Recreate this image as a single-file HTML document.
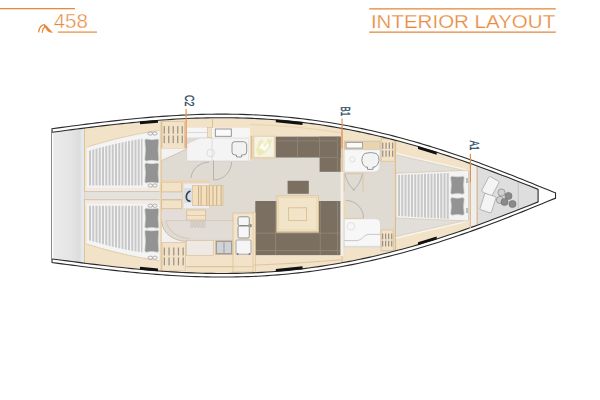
<!DOCTYPE html>
<html><head><meta charset="utf-8"><style>html,body{margin:0;padding:0;background:#fff;width:600px;height:400px;overflow:hidden}svg{display:block}</style></head>
<body>
<svg width="600" height="400" viewBox="0 0 600 400">
<defs>
<linearGradient id="gT" x1="0" x2="1" y1="0" y2="0"><stop offset="0" stop-color="#ebebeb"/><stop offset="0.55" stop-color="#e5e5e5"/><stop offset="0.86" stop-color="#dcdcdc"/><stop offset="0.89" stop-color="#e3e7e9"/><stop offset="1" stop-color="#e6eaec"/></linearGradient>
<clipPath id="cin"><path d="M52.0,132.25 C53.67,132.03 58.67,131.38 62.00,130.95 C65.33,130.52 68.67,130.08 72.00,129.65 C75.33,129.22 78.67,128.79 82.00,128.37 C85.33,127.95 88.67,127.53 92.00,127.12 C95.33,126.71 98.67,126.30 102.00,125.90 C105.33,125.50 108.67,125.12 112.00,124.74 C115.33,124.36 118.67,124.00 122.00,123.64 C125.33,123.28 128.67,122.93 132.00,122.60 C135.33,122.27 138.67,121.95 142.00,121.65 C145.33,121.35 148.67,121.06 152.00,120.78 C155.33,120.50 158.67,120.24 162.00,120.00 C165.33,119.76 168.67,119.54 172.00,119.33 C175.33,119.12 178.67,118.93 182.00,118.76 C185.33,118.59 188.67,118.44 192.00,118.31 C195.33,118.18 198.67,118.07 202.00,117.98 C205.33,117.89 208.67,117.83 212.00,117.78 C215.33,117.73 218.67,117.71 222.00,117.71 C225.33,117.71 228.67,117.73 232.00,117.78 C235.33,117.83 238.67,117.90 242.00,117.99 C245.33,118.08 248.67,118.20 252.00,118.34 C255.33,118.48 258.67,118.65 262.00,118.84 C265.33,119.03 268.67,119.25 272.00,119.49 C275.33,119.73 278.67,120.00 282.00,120.29 C285.33,120.58 288.67,120.91 292.00,121.25 C295.33,121.59 298.67,121.96 302.00,122.36 C305.33,122.76 308.67,123.18 312.00,123.63 C315.33,124.08 318.67,124.56 322.00,125.06 C325.33,125.56 328.67,126.09 332.00,126.64 C335.33,127.19 338.67,127.77 342.00,128.38 C345.33,128.99 348.67,129.62 352.00,130.28 C355.33,130.94 358.67,131.62 362.00,132.33 C365.33,133.04 368.67,133.77 372.00,134.53 C375.33,135.29 378.67,136.07 382.00,136.88 C385.33,137.69 388.67,138.52 392.00,139.37 C395.33,140.22 398.67,141.11 402.00,142.01 C405.33,142.91 408.67,143.84 412.00,144.79 C415.33,145.74 418.67,146.71 422.00,147.70 C425.33,148.69 428.67,149.71 432.00,150.74 C435.33,151.78 438.67,152.84 442.00,153.91 C445.33,154.98 448.67,156.08 452.00,157.19 C455.33,158.30 458.67,159.44 462.00,160.59 C465.33,161.74 468.67,162.91 472.00,164.09 C475.33,165.27 478.67,166.47 482.00,167.69 C485.33,168.91 488.67,170.14 492.00,171.38 C495.33,172.62 498.67,173.88 502.00,175.15 C505.33,176.42 508.67,177.71 512.00,179.00 C515.33,180.29 517.65,181.19 522.00,182.91 C526.35,184.63 535.42,188.25 538.10,189.32 L538.1,189.00 L538.1,202.20 L538.1,201.88 C535.42,202.95 526.35,206.57 522.00,208.29 C517.65,210.01 515.33,210.91 512.00,212.20 C508.67,213.49 505.33,214.78 502.00,216.05 C498.67,217.32 495.33,218.58 492.00,219.82 C488.67,221.06 485.33,222.29 482.00,223.51 C478.67,224.72 475.33,225.93 472.00,227.11 C468.67,228.29 465.33,229.46 462.00,230.61 C458.67,231.76 455.33,232.90 452.00,234.01 C448.67,235.12 445.33,236.22 442.00,237.29 C438.67,238.36 435.33,239.42 432.00,240.46 C428.67,241.49 425.33,242.51 422.00,243.50 C418.67,244.49 415.33,245.46 412.00,246.41 C408.67,247.36 405.33,248.29 402.00,249.19 C398.67,250.09 395.33,250.97 392.00,251.83 C388.67,252.68 385.33,253.51 382.00,254.32 C378.67,255.13 375.33,255.91 372.00,256.67 C368.67,257.43 365.33,258.16 362.00,258.87 C358.67,259.58 355.33,260.26 352.00,260.92 C348.67,261.58 345.33,262.21 342.00,262.82 C338.67,263.43 335.33,264.01 332.00,264.56 C328.67,265.11 325.33,265.64 322.00,266.14 C318.67,266.64 315.33,267.12 312.00,267.57 C308.67,268.02 305.33,268.44 302.00,268.84 C298.67,269.24 295.33,269.61 292.00,269.95 C288.67,270.29 285.33,270.62 282.00,270.91 C278.67,271.20 275.33,271.47 272.00,271.71 C268.67,271.95 265.33,272.17 262.00,272.36 C258.67,272.55 255.33,272.72 252.00,272.86 C248.67,273.00 245.33,273.12 242.00,273.21 C238.67,273.30 235.33,273.37 232.00,273.42 C228.67,273.47 225.33,273.49 222.00,273.49 C218.67,273.49 215.33,273.46 212.00,273.42 C208.67,273.37 205.33,273.31 202.00,273.22 C198.67,273.13 195.33,273.02 192.00,272.89 C188.67,272.76 185.33,272.61 182.00,272.44 C178.67,272.27 175.33,272.08 172.00,271.87 C168.67,271.66 165.33,271.44 162.00,271.20 C158.67,270.96 155.33,270.69 152.00,270.42 C148.67,270.14 145.33,269.85 142.00,269.55 C138.67,269.25 135.33,268.93 132.00,268.60 C128.67,268.27 125.33,267.92 122.00,267.56 C118.67,267.20 115.33,266.84 112.00,266.46 C108.67,266.08 105.33,265.70 102.00,265.30 C98.67,264.90 95.33,264.49 92.00,264.08 C88.67,263.67 85.33,263.25 82.00,262.83 C78.67,262.41 75.33,261.98 72.00,261.55 C68.67,261.12 65.33,260.68 62.00,260.25 C58.67,259.82 53.67,259.17 52.00,258.95 Z"/></clipPath>
</defs>
<rect width="600" height="400" fill="#ffffff"/>
<!-- header -->
<rect x="0" y="8" width="75" height="1.3" fill="#e8893b"/>
<rect x="57.8" y="31.5" width="39.2" height="1.2" fill="#e8893b"/>
<text x="53.7" y="27.7" font-family="Liberation Sans, sans-serif" font-size="19.8" fill="#e8893b" textLength="34.2" lengthAdjust="spacingAndGlyphs" stroke="#fff" stroke-width="0.4">458</text>
<path d="M38.6,31.9 C39.1,28.6 41.2,25 44.4,24.6" fill="none" stroke="#e8893b" stroke-width="1.3" stroke-linecap="round"/><path d="M43.6,24.5 C46.6,24.1 48.6,28.6 53,32.7 C50,32.9 47.6,31.8 46.6,30 C45.8,28.6 45.2,27.4 44.2,27.3 Z" fill="#e8893b"/><path d="M42.3,32.3 C42.5,29.9 43.3,27.9 44.9,27.4" fill="none" stroke="#e8893b" stroke-width="1.2" stroke-linecap="round"/>
<rect x="369.2" y="8.2" width="186.6" height="1.3" fill="#e8893b"/>
<rect x="369.2" y="31.5" width="186.6" height="1.3" fill="#e8893b"/>
<text x="370.9" y="27.6" font-family="Liberation Sans, sans-serif" font-size="18.6" fill="#e8893b" textLength="184.3" lengthAdjust="spacingAndGlyphs" stroke="#fff" stroke-width="0.25">INTERIOR LAYOUT</text>
<!-- hull -->
<path d="M52.0,128.69 C53.67,128.47 58.67,127.80 62.00,127.36 C65.33,126.92 68.67,126.48 72.00,126.04 C75.33,125.61 78.67,125.17 82.00,124.75 C85.33,124.33 88.67,123.90 92.00,123.49 C95.33,123.08 98.67,122.67 102.00,122.27 C105.33,121.87 108.67,121.48 112.00,121.10 C115.33,120.72 118.67,120.36 122.00,120.00 C125.33,119.64 128.67,119.30 132.00,118.97 C135.33,118.64 138.67,118.32 142.00,118.02 C145.33,117.72 148.67,117.42 152.00,117.15 C155.33,116.88 158.67,116.62 162.00,116.38 C165.33,116.14 168.67,115.92 172.00,115.72 C175.33,115.52 178.67,115.33 182.00,115.16 C185.33,114.99 188.67,114.84 192.00,114.71 C195.33,114.58 198.67,114.47 202.00,114.39 C205.33,114.31 208.67,114.24 212.00,114.20 C215.33,114.16 218.67,114.13 222.00,114.13 C225.33,114.13 228.67,114.15 232.00,114.20 C235.33,114.25 238.67,114.32 242.00,114.41 C245.33,114.50 248.67,114.62 252.00,114.76 C255.33,114.90 258.67,115.07 262.00,115.26 C265.33,115.45 268.67,115.66 272.00,115.90 C275.33,116.14 278.67,116.41 282.00,116.70 C285.33,116.99 288.67,117.31 292.00,117.65 C295.33,117.99 298.67,118.36 302.00,118.75 C305.33,119.14 308.67,119.56 312.00,120.01 C315.33,120.46 318.67,120.93 322.00,121.43 C325.33,121.93 328.67,122.45 332.00,123.00 C335.33,123.55 338.67,124.12 342.00,124.72 C345.33,125.32 348.67,125.95 352.00,126.60 C355.33,127.25 358.67,127.94 362.00,128.64 C365.33,129.34 368.67,130.07 372.00,130.82 C375.33,131.57 378.67,132.36 382.00,133.16 C385.33,133.96 388.67,134.79 392.00,135.64 C395.33,136.49 398.67,137.37 402.00,138.27 C405.33,139.17 408.67,140.09 412.00,141.03 C415.33,141.97 418.67,142.94 422.00,143.93 C425.33,144.92 428.67,145.94 432.00,146.97 C435.33,148.00 438.67,149.06 442.00,150.13 C445.33,151.20 448.67,152.30 452.00,153.42 C455.33,154.53 458.67,155.67 462.00,156.82 C465.33,157.97 468.67,159.15 472.00,160.34 C475.33,161.53 478.67,162.73 482.00,163.95 C485.33,165.17 488.67,166.41 492.00,167.67 C495.33,168.92 498.67,170.20 502.00,171.48 C505.33,172.76 508.67,174.05 512.00,175.36 C515.33,176.67 518.67,178.00 522.00,179.33 C525.33,180.66 528.67,182.01 532.00,183.36 C535.33,184.71 538.27,185.91 542.00,187.44 C545.73,188.97 552.33,191.72 554.40,192.57 L555.5,192.80 L555.5,198.40 L554.4,198.63 C552.33,199.48 545.73,202.22 542.00,203.76 C538.27,205.29 535.33,206.49 532.00,207.84 C528.67,209.19 525.33,210.54 522.00,211.87 C518.67,213.20 515.33,214.53 512.00,215.84 C508.67,217.15 505.33,218.44 502.00,219.72 C498.67,221.00 495.33,222.28 492.00,223.53 C488.67,224.78 485.33,226.03 482.00,227.25 C478.67,228.47 475.33,229.67 472.00,230.86 C468.67,232.05 465.33,233.23 462.00,234.38 C458.67,235.53 455.33,236.66 452.00,237.78 C448.67,238.90 445.33,240.00 442.00,241.07 C438.67,242.14 435.33,243.20 432.00,244.23 C428.67,245.26 425.33,246.28 422.00,247.27 C418.67,248.26 415.33,249.23 412.00,250.17 C408.67,251.11 405.33,252.03 402.00,252.93 C398.67,253.83 395.33,254.71 392.00,255.56 C388.67,256.41 385.33,257.24 382.00,258.04 C378.67,258.84 375.33,259.63 372.00,260.38 C368.67,261.13 365.33,261.86 362.00,262.56 C358.67,263.26 355.33,263.95 352.00,264.60 C348.67,265.25 345.33,265.88 342.00,266.48 C338.67,267.08 335.33,267.65 332.00,268.20 C328.67,268.75 325.33,269.27 322.00,269.77 C318.67,270.27 315.33,270.74 312.00,271.19 C308.67,271.64 305.33,272.06 302.00,272.45 C298.67,272.84 295.33,273.21 292.00,273.55 C288.67,273.89 285.33,274.21 282.00,274.50 C278.67,274.79 275.33,275.06 272.00,275.30 C268.67,275.54 265.33,275.75 262.00,275.94 C258.67,276.13 255.33,276.30 252.00,276.44 C248.67,276.58 245.33,276.70 242.00,276.79 C238.67,276.88 235.33,276.95 232.00,277.00 C228.67,277.05 225.33,277.07 222.00,277.07 C218.67,277.07 215.33,277.04 212.00,277.00 C208.67,276.96 205.33,276.89 202.00,276.81 C198.67,276.73 195.33,276.62 192.00,276.49 C188.67,276.36 185.33,276.21 182.00,276.04 C178.67,275.87 175.33,275.68 172.00,275.48 C168.67,275.28 165.33,275.06 162.00,274.82 C158.67,274.58 155.33,274.32 152.00,274.05 C148.67,273.78 145.33,273.48 142.00,273.18 C138.67,272.88 135.33,272.56 132.00,272.23 C128.67,271.90 125.33,271.56 122.00,271.20 C118.67,270.84 115.33,270.48 112.00,270.10 C108.67,269.72 105.33,269.33 102.00,268.93 C98.67,268.53 95.33,268.12 92.00,267.71 C88.67,267.30 85.33,266.88 82.00,266.45 C78.67,266.02 75.33,265.59 72.00,265.16 C68.67,264.72 65.33,264.28 62.00,263.84 C58.67,263.40 53.67,262.73 52.00,262.51 Z" fill="#ffffff" stroke="#2a2a2a" stroke-width="1.1"/>
<g clip-path="url(#cin)">
<path d="M52.0,132.25 C53.67,132.03 58.67,131.38 62.00,130.95 C65.33,130.52 68.67,130.08 72.00,129.65 C75.33,129.22 78.67,128.79 82.00,128.37 C85.33,127.95 88.67,127.53 92.00,127.12 C95.33,126.71 98.67,126.30 102.00,125.90 C105.33,125.50 108.67,125.12 112.00,124.74 C115.33,124.36 118.67,124.00 122.00,123.64 C125.33,123.28 128.67,122.93 132.00,122.60 C135.33,122.27 138.67,121.95 142.00,121.65 C145.33,121.35 148.67,121.06 152.00,120.78 C155.33,120.50 158.67,120.24 162.00,120.00 C165.33,119.76 168.67,119.54 172.00,119.33 C175.33,119.12 178.67,118.93 182.00,118.76 C185.33,118.59 188.67,118.44 192.00,118.31 C195.33,118.18 198.67,118.07 202.00,117.98 C205.33,117.89 208.67,117.83 212.00,117.78 C215.33,117.73 218.67,117.71 222.00,117.71 C225.33,117.71 228.67,117.73 232.00,117.78 C235.33,117.83 238.67,117.90 242.00,117.99 C245.33,118.08 248.67,118.20 252.00,118.34 C255.33,118.48 258.67,118.65 262.00,118.84 C265.33,119.03 268.67,119.25 272.00,119.49 C275.33,119.73 278.67,120.00 282.00,120.29 C285.33,120.58 288.67,120.91 292.00,121.25 C295.33,121.59 298.67,121.96 302.00,122.36 C305.33,122.76 308.67,123.18 312.00,123.63 C315.33,124.08 318.67,124.56 322.00,125.06 C325.33,125.56 328.67,126.09 332.00,126.64 C335.33,127.19 338.67,127.77 342.00,128.38 C345.33,128.99 348.67,129.62 352.00,130.28 C355.33,130.94 358.67,131.62 362.00,132.33 C365.33,133.04 368.67,133.77 372.00,134.53 C375.33,135.29 378.67,136.07 382.00,136.88 C385.33,137.69 388.67,138.52 392.00,139.37 C395.33,140.22 398.67,141.11 402.00,142.01 C405.33,142.91 408.67,143.84 412.00,144.79 C415.33,145.74 418.67,146.71 422.00,147.70 C425.33,148.69 428.67,149.71 432.00,150.74 C435.33,151.78 438.67,152.84 442.00,153.91 C445.33,154.98 448.67,156.08 452.00,157.19 C455.33,158.30 458.67,159.44 462.00,160.59 C465.33,161.74 468.67,162.91 472.00,164.09 C475.33,165.27 478.67,166.47 482.00,167.69 C485.33,168.91 488.67,170.14 492.00,171.38 C495.33,172.62 498.67,173.88 502.00,175.15 C505.33,176.42 508.67,177.71 512.00,179.00 C515.33,180.29 517.65,181.19 522.00,182.91 C526.35,184.63 535.42,188.25 538.10,189.32 L538.1,189.00 L538.1,202.20 L538.1,201.88 C535.42,202.95 526.35,206.57 522.00,208.29 C517.65,210.01 515.33,210.91 512.00,212.20 C508.67,213.49 505.33,214.78 502.00,216.05 C498.67,217.32 495.33,218.58 492.00,219.82 C488.67,221.06 485.33,222.29 482.00,223.51 C478.67,224.72 475.33,225.93 472.00,227.11 C468.67,228.29 465.33,229.46 462.00,230.61 C458.67,231.76 455.33,232.90 452.00,234.01 C448.67,235.12 445.33,236.22 442.00,237.29 C438.67,238.36 435.33,239.42 432.00,240.46 C428.67,241.49 425.33,242.51 422.00,243.50 C418.67,244.49 415.33,245.46 412.00,246.41 C408.67,247.36 405.33,248.29 402.00,249.19 C398.67,250.09 395.33,250.97 392.00,251.83 C388.67,252.68 385.33,253.51 382.00,254.32 C378.67,255.13 375.33,255.91 372.00,256.67 C368.67,257.43 365.33,258.16 362.00,258.87 C358.67,259.58 355.33,260.26 352.00,260.92 C348.67,261.58 345.33,262.21 342.00,262.82 C338.67,263.43 335.33,264.01 332.00,264.56 C328.67,265.11 325.33,265.64 322.00,266.14 C318.67,266.64 315.33,267.12 312.00,267.57 C308.67,268.02 305.33,268.44 302.00,268.84 C298.67,269.24 295.33,269.61 292.00,269.95 C288.67,270.29 285.33,270.62 282.00,270.91 C278.67,271.20 275.33,271.47 272.00,271.71 C268.67,271.95 265.33,272.17 262.00,272.36 C258.67,272.55 255.33,272.72 252.00,272.86 C248.67,273.00 245.33,273.12 242.00,273.21 C238.67,273.30 235.33,273.37 232.00,273.42 C228.67,273.47 225.33,273.49 222.00,273.49 C218.67,273.49 215.33,273.46 212.00,273.42 C208.67,273.37 205.33,273.31 202.00,273.22 C198.67,273.13 195.33,273.02 192.00,272.89 C188.67,272.76 185.33,272.61 182.00,272.44 C178.67,272.27 175.33,272.08 172.00,271.87 C168.67,271.66 165.33,271.44 162.00,271.20 C158.67,270.96 155.33,270.69 152.00,270.42 C148.67,270.14 145.33,269.85 142.00,269.55 C138.67,269.25 135.33,268.93 132.00,268.60 C128.67,268.27 125.33,267.92 122.00,267.56 C118.67,267.20 115.33,266.84 112.00,266.46 C108.67,266.08 105.33,265.70 102.00,265.30 C98.67,264.90 95.33,264.49 92.00,264.08 C88.67,263.67 85.33,263.25 82.00,262.83 C78.67,262.41 75.33,261.98 72.00,261.55 C68.67,261.12 65.33,260.68 62.00,260.25 C58.67,259.82 53.67,259.17 52.00,258.95 Z" fill="#f1e2c8"/>
<rect x="52" y="125" width="1.5" height="142" fill="#ffffff"/>
<rect x="53.5" y="125" width="31" height="142" fill="url(#gT)"/>
<rect x="84.1" y="125" width="0.9" height="142" fill="#dcc08f"/>
<rect x="161.00" y="136.00" width="181.00" height="120.00" fill="#dfdad2" />
<rect x="344.00" y="140.00" width="51.00" height="112.00" fill="#dfdad2" />
<rect x="85.00" y="186.00" width="75.00" height="19.20" fill="#f3ebe1" />
<rect x="84.50" y="191.80" width="98.00" height="7.80" fill="#e5e2de" />
<line x1="84.5" y1="191.6" x2="182" y2="191.6" stroke="#c9b9a6" stroke-width="0.8"/>
<line x1="84.5" y1="199.7" x2="182" y2="199.7" stroke="#c9b9a6" stroke-width="0.8"/>
<path d="M86.5,187.40 L86.5,147.20 C105,141.50 130,134.50 160.2,130.30 L160.2,187.40 Z" fill="#f4f4f4"/>
<path d="M86.5,147.20 C105,141.50 130,134.50 160.2,130.30" fill="none" stroke="#dcc7a3" stroke-width="0.8"/>
<clipPath id="cb0"><path d="M88,185.50 L88,151.20 C104,146.50 125,141.00 142.5,138.80 L142.5,185.50 Z"/></clipPath>
<g clip-path="url(#cb0)"><rect x="89.00" y="120.00" width="2.00" height="80.00" fill="#c8c8c8" /><rect x="92.25" y="120.00" width="2.00" height="80.00" fill="#c8c8c8" /><rect x="95.50" y="120.00" width="2.00" height="80.00" fill="#c8c8c8" /><rect x="98.75" y="120.00" width="2.00" height="80.00" fill="#c8c8c8" /><rect x="102.00" y="120.00" width="2.00" height="80.00" fill="#c8c8c8" /><rect x="105.25" y="120.00" width="2.00" height="80.00" fill="#c8c8c8" /><rect x="108.50" y="120.00" width="2.00" height="80.00" fill="#c8c8c8" /><rect x="111.75" y="120.00" width="2.00" height="80.00" fill="#c8c8c8" /><rect x="115.00" y="120.00" width="2.00" height="80.00" fill="#c8c8c8" /><rect x="118.25" y="120.00" width="2.00" height="80.00" fill="#c8c8c8" /><rect x="121.50" y="120.00" width="2.00" height="80.00" fill="#c8c8c8" /><rect x="124.75" y="120.00" width="2.00" height="80.00" fill="#c8c8c8" /><rect x="128.00" y="120.00" width="2.00" height="80.00" fill="#c8c8c8" /><rect x="131.25" y="120.00" width="2.00" height="80.00" fill="#c8c8c8" /><rect x="134.50" y="120.00" width="2.00" height="80.00" fill="#c8c8c8" /><rect x="137.75" y="120.00" width="2.00" height="80.00" fill="#c8c8c8" /><rect x="141.00" y="120.00" width="2.00" height="80.00" fill="#c8c8c8" /></g>
<path d="M148,133.50 a2.3,1.6 0 1 0 4.6,0 a2.3,1.6 0 1 0 -4.6,0 M152.6,133.50 a2.3,1.6 0 1 0 4.6,0 a2.3,1.6 0 1 0 -4.6,0" fill="none" stroke="#8a8a8a" stroke-width="0.6"/>
<path d="M148,185.50 a2.3,1.6 0 1 0 4.6,0 a2.3,1.6 0 1 0 -4.6,0 M152.6,185.50 a2.3,1.6 0 1 0 4.6,0 a2.3,1.6 0 1 0 -4.6,0" fill="none" stroke="#8a8a8a" stroke-width="0.6"/>
<path d="M146.40,139.00 Q151.80,140.30 157.20,139.00 Q158.80,139.00 158.80,140.60 Q157.50,150.00 158.80,159.40 Q158.80,161.00 157.20,161.00 Q151.80,159.70 146.40,161.00 Q144.80,161.00 144.80,159.40 Q146.10,150.00 144.80,140.60 Q144.80,139.00 146.40,139.00 Z" fill="#939393" stroke="#d6d6d6" stroke-width="0.7"/>
<path d="M146.40,163.00 Q151.80,164.30 157.20,163.00 Q158.80,163.00 158.80,164.60 Q157.50,173.00 158.80,181.40 Q158.80,183.00 157.20,183.00 Q151.80,181.70 146.40,183.00 Q144.80,183.00 144.80,181.40 Q146.10,173.00 144.80,164.60 Q144.80,163.00 146.40,163.00 Z" fill="#939393" stroke="#d6d6d6" stroke-width="0.7"/>
<path d="M86.5,203.80 L86.5,244.00 C105,249.70 130,256.70 160.2,260.90 L160.2,203.80 Z" fill="#f4f4f4"/>
<path d="M86.5,244.00 C105,249.70 130,256.70 160.2,260.90" fill="none" stroke="#dcc7a3" stroke-width="0.8"/>
<clipPath id="cb1"><path d="M88,205.70 L88,240.00 C104,244.70 125,250.20 142.5,252.40 L142.5,205.70 Z"/></clipPath>
<g clip-path="url(#cb1)"><rect x="89.00" y="195.00" width="2.00" height="80.00" fill="#c8c8c8" /><rect x="92.25" y="195.00" width="2.00" height="80.00" fill="#c8c8c8" /><rect x="95.50" y="195.00" width="2.00" height="80.00" fill="#c8c8c8" /><rect x="98.75" y="195.00" width="2.00" height="80.00" fill="#c8c8c8" /><rect x="102.00" y="195.00" width="2.00" height="80.00" fill="#c8c8c8" /><rect x="105.25" y="195.00" width="2.00" height="80.00" fill="#c8c8c8" /><rect x="108.50" y="195.00" width="2.00" height="80.00" fill="#c8c8c8" /><rect x="111.75" y="195.00" width="2.00" height="80.00" fill="#c8c8c8" /><rect x="115.00" y="195.00" width="2.00" height="80.00" fill="#c8c8c8" /><rect x="118.25" y="195.00" width="2.00" height="80.00" fill="#c8c8c8" /><rect x="121.50" y="195.00" width="2.00" height="80.00" fill="#c8c8c8" /><rect x="124.75" y="195.00" width="2.00" height="80.00" fill="#c8c8c8" /><rect x="128.00" y="195.00" width="2.00" height="80.00" fill="#c8c8c8" /><rect x="131.25" y="195.00" width="2.00" height="80.00" fill="#c8c8c8" /><rect x="134.50" y="195.00" width="2.00" height="80.00" fill="#c8c8c8" /><rect x="137.75" y="195.00" width="2.00" height="80.00" fill="#c8c8c8" /><rect x="141.00" y="195.00" width="2.00" height="80.00" fill="#c8c8c8" /></g>
<path d="M148,257.70 a2.3,1.6 0 1 0 4.6,0 a2.3,1.6 0 1 0 -4.6,0 M152.6,257.70 a2.3,1.6 0 1 0 4.6,0 a2.3,1.6 0 1 0 -4.6,0" fill="none" stroke="#8a8a8a" stroke-width="0.6"/>
<path d="M148,205.70 a2.3,1.6 0 1 0 4.6,0 a2.3,1.6 0 1 0 -4.6,0 M152.6,205.70 a2.3,1.6 0 1 0 4.6,0 a2.3,1.6 0 1 0 -4.6,0" fill="none" stroke="#8a8a8a" stroke-width="0.6"/>
<path d="M146.40,230.20 Q151.80,231.50 157.20,230.20 Q158.80,230.20 158.80,231.80 Q157.50,241.20 158.80,250.60 Q158.80,252.20 157.20,252.20 Q151.80,250.90 146.40,252.20 Q144.80,252.20 144.80,250.60 Q146.10,241.20 144.80,231.80 Q144.80,230.20 146.40,230.20 Z" fill="#939393" stroke="#d6d6d6" stroke-width="0.7"/>
<path d="M146.40,208.20 Q151.80,209.50 157.20,208.20 Q158.80,208.20 158.80,209.80 Q157.50,218.20 158.80,226.60 Q158.80,228.20 157.20,228.20 Q151.80,226.90 146.40,228.20 Q144.80,228.20 144.80,226.60 Q146.10,218.20 144.80,209.80 Q144.80,208.20 146.40,208.20 Z" fill="#939393" stroke="#d6d6d6" stroke-width="0.7"/>
<rect x="159.50" y="120.00" width="2.50" height="152.00" fill="#f1e2c8" />
<line x1="161.2" y1="121" x2="161.2" y2="271" stroke="#d8b788" stroke-width="0.9"/>
<rect x="162.00" y="121.50" width="22.50" height="27.00" fill="#f1e2c8" stroke="#d8b788" stroke-width="0.6"/><rect x="163.65" y="126.09" width="1.20" height="7.56" fill="#9a8f84" /><rect x="163.65" y="135.54" width="1.20" height="7.56" fill="#9a8f84" /><rect x="168.15" y="126.09" width="1.20" height="7.56" fill="#9a8f84" /><rect x="168.15" y="135.54" width="1.20" height="7.56" fill="#9a8f84" /><rect x="172.65" y="126.09" width="1.20" height="7.56" fill="#9a8f84" /><rect x="172.65" y="135.54" width="1.20" height="7.56" fill="#9a8f84" /><rect x="177.15" y="126.09" width="1.20" height="7.56" fill="#9a8f84" /><rect x="177.15" y="135.54" width="1.20" height="7.56" fill="#9a8f84" /><rect x="181.65" y="126.09" width="1.20" height="7.56" fill="#9a8f84" /><rect x="181.65" y="135.54" width="1.20" height="7.56" fill="#9a8f84" />
<rect x="162.00" y="242.70" width="23.50" height="28.30" fill="#f1e2c8" stroke="#d8b788" stroke-width="0.6"/><rect x="163.75" y="247.51" width="1.20" height="7.92" fill="#9a8f84" /><rect x="163.75" y="257.42" width="1.20" height="7.92" fill="#9a8f84" /><rect x="168.45" y="247.51" width="1.20" height="7.92" fill="#9a8f84" /><rect x="168.45" y="257.42" width="1.20" height="7.92" fill="#9a8f84" /><rect x="173.15" y="247.51" width="1.20" height="7.92" fill="#9a8f84" /><rect x="173.15" y="257.42" width="1.20" height="7.92" fill="#9a8f84" /><rect x="177.85" y="247.51" width="1.20" height="7.92" fill="#9a8f84" /><rect x="177.85" y="257.42" width="1.20" height="7.92" fill="#9a8f84" /><rect x="182.55" y="247.51" width="1.20" height="7.92" fill="#9a8f84" /><rect x="182.55" y="257.42" width="1.20" height="7.92" fill="#9a8f84" />
<rect x="187.00" y="127.70" width="20.30" height="9.80" fill="#f5f5f5" />
<rect x="187.00" y="132.00" width="20.30" height="0.70" fill="#cfcfcf" />
<rect x="207.30" y="127.70" width="4.70" height="10.00" fill="#f1e2c8" stroke="#d8b788" stroke-width="0.5"/>
<rect x="212.00" y="127.70" width="36.70" height="10.50" fill="#f6f6f6" />
<path d="M186.7,161 L186.7,143.7 L200,138.1 L248.7,138.1 L248.7,161 Z" fill="#f4f4f4" stroke="#d0d0d0" stroke-width="0.6"/>
<rect x="211.70" y="138.10" width="0.70" height="23.00" fill="#d4d4d4" />
<path d="M161.5,148.5 L186,148.5 L186,149.4 L161.5,160.6 Z" fill="#f2f2f2"/>
<line x1="161.5" y1="160.6" x2="186" y2="149.4" stroke="#c9b99f" stroke-width="0.7"/>
<rect x="215.30" y="129.00" width="16.00" height="7.30" fill="#fafafa" stroke="#8a8a8a" stroke-width="0.9"/>
<path d="M232,144 Q232,141.7 235,141.7 L243.5,141.7 Q246.7,141.7 246.7,145 L246.7,152 Q246.7,155 243,155 L241.5,155 L241.5,157 L236.5,157 L236.5,155 L235,155 Q232,155 232,152 Z" fill="#f2f2f2" stroke="#7d7d7d" stroke-width="0.8"/>
<circle cx="210.7" cy="153" r="3.8" fill="none" stroke="#cfcfcf" stroke-width="0.6"/>
<rect x="212.00" y="119.00" width="0.80" height="8.70" fill="#d8b788" />
<rect x="248.70" y="127.70" width="1.20" height="33.00" fill="#fbfbfb" />
<rect x="249.90" y="135.60" width="26.00" height="22.50" fill="#e9d4b0" />
<rect x="251.20" y="136.00" width="0.70" height="22.00" fill="#d8b788" />
<rect x="254.40" y="136.90" width="19.40" height="20.00" fill="#f4f3e6" />
<path d="M256,150 L259,141 L263,139 L262,146 L266,144 L268,138.5 L272,140 L270,147 L266,152 L262,155 L258,155 Z" fill="#ebeab0" opacity="0.9"/>
<path d="M259,148 L262,143 L265,147 L268,142 L269,146 L265,151 Z" fill="#fbfbf4"/>
<path d="M249.9,124.4 Q300,126 342,133" fill="none" stroke="#e3cfa9" stroke-width="0.8"/>
<rect x="249.90" y="157.60" width="26.00" height="1.50" fill="#e6d3b0" />
<rect x="275.80" y="136.70" width="64.80" height="20.80" fill="#7b6f61" />
<rect x="319.60" y="136.70" width="21.00" height="35.10" fill="#7b6f61" />
<rect x="297.10" y="136.70" width="0.80" height="20.80" fill="#948979" />
<rect x="319.20" y="136.70" width="0.80" height="20.80" fill="#948979" />
<rect x="275.80" y="140.60" width="61.80" height="0.70" fill="#948979" />
<rect x="337.30" y="136.70" width="0.70" height="35.10" fill="#948979" />
<rect x="319.60" y="157.20" width="18.00" height="0.70" fill="#948979" />
<rect x="287.60" y="180.80" width="21.20" height="13.00" fill="#7b6f61" />
<rect x="255.30" y="201.00" width="85.30" height="54.30" fill="#7b6f61" />
<rect x="275.30" y="201.00" width="0.80" height="54.30" fill="#948979" />
<rect x="319.80" y="201.00" width="0.80" height="54.30" fill="#948979" />
<rect x="337.10" y="201.00" width="0.80" height="54.30" fill="#948979" />
<rect x="255.30" y="232.70" width="85.30" height="0.80" fill="#948979" />
<rect x="255.30" y="250.20" width="85.30" height="0.80" fill="#948979" />
<rect x="276.30" y="195.30" width="42.60" height="37.00" fill="#e2c89c" />
<rect x="277.30" y="196.30" width="40.60" height="35.00" fill="#f2e4c8" />
<rect x="278.60" y="197.60" width="38.00" height="32.40" fill="none" stroke="#ead5b0" stroke-width="0.8"/>
<rect x="288.60" y="207.80" width="18.00" height="12.60" fill="none" stroke="#d8bb8e" stroke-width="0.8"/>
<rect x="276.30" y="231.60" width="42.60" height="1.20" fill="#c9b79c" />
<rect x="161.70" y="182.50" width="20.00" height="9.40" fill="#f1e2c8" stroke="#d8b788" stroke-width="0.7"/>
<rect x="161.70" y="200.00" width="20.00" height="8.70" fill="#f1e2c8" stroke="#d8b788" stroke-width="0.7"/>
<rect x="181.70" y="182.50" width="1.90" height="26.20" fill="#e9d4b0" />
<rect x="161.70" y="180.20" width="47.60" height="2.40" fill="#e9d4b0" />
<rect x="183.10" y="183.10" width="26.20" height="25.60" fill="#efedf1" stroke="#e0d2b8" stroke-width="0.5"/>
<rect x="192.40" y="185.60" width="30.60" height="20.00" fill="#f1dfbf" stroke="#d8b788" stroke-width="0.6"/>
<rect x="198.15" y="185.80" width="0.90" height="19.60" fill="#c9a676" />
<rect x="200.65" y="185.80" width="0.90" height="19.60" fill="#c9a676" />
<rect x="206.30" y="185.80" width="0.90" height="19.60" fill="#c9a676" />
<rect x="208.80" y="185.80" width="0.90" height="19.60" fill="#c9a676" />
<rect x="212.55" y="185.80" width="0.90" height="19.60" fill="#c9a676" />
<rect x="216.30" y="185.80" width="0.90" height="19.60" fill="#c9a676" />
<rect x="220.65" y="185.80" width="0.90" height="19.60" fill="#c9a676" />
<rect x="184.00" y="188.00" width="8.00" height="15.00" fill="#d9dfe6" />
<path d="M190.5,191 Q185.5,193 186.5,198.5 Q187.5,201.5 190.5,201" fill="none" stroke="#3a3f48" stroke-width="1.6"/>
<rect x="186.75" y="210.00" width="18.75" height="10.00" fill="#f1e2c8" stroke="#d8b788" stroke-width="0.7"/>
<rect x="186.75" y="215.40" width="18.75" height="0.60" fill="#d8b788" />
<path d="M191,178 A18,18 0 0 1 209,162" fill="none" stroke="#8c8c8c" stroke-width="0.5"/>
<path d="M213.5,160.5 L213.5,180 A18,18 0 0 0 231.5,162" fill="none" stroke="#8c8c8c" stroke-width="0.5"/>
<rect x="161.70" y="209.50" width="24.00" height="11.00" fill="#e3dcd8" />
<path d="M166,220.6 C168,230.5 176,237.6 190,238.6 L233,238.6 L233,220.6 Z" fill="#e1dcd5"/>
<path d="M166,220.6 L233,220.6" fill="none" stroke="#cdbfae" stroke-width="0.6"/>
<path d="M161.7,222 C163,233 172,241 188,241.6 L188,272 L161.7,272 Z" fill="#f3f1ef"/>
<path d="M161.7,222 C163,233 172,241 188,241.6" fill="none" stroke="#bfae95" stroke-width="0.7"/>
<path d="M166,220.6 C168,230.5 176,237.6 190,238.6" fill="none" stroke="#c9b89f" stroke-width="0.6"/>
<rect x="162.00" y="242.70" width="23.50" height="28.30" fill="#f1e2c8" stroke="#d8b788" stroke-width="0.6"/><rect x="163.75" y="247.51" width="1.20" height="7.92" fill="#9a8f84" /><rect x="163.75" y="257.42" width="1.20" height="7.92" fill="#9a8f84" /><rect x="168.45" y="247.51" width="1.20" height="7.92" fill="#9a8f84" /><rect x="168.45" y="257.42" width="1.20" height="7.92" fill="#9a8f84" /><rect x="173.15" y="247.51" width="1.20" height="7.92" fill="#9a8f84" /><rect x="173.15" y="257.42" width="1.20" height="7.92" fill="#9a8f84" /><rect x="177.85" y="247.51" width="1.20" height="7.92" fill="#9a8f84" /><rect x="177.85" y="257.42" width="1.20" height="7.92" fill="#9a8f84" /><rect x="182.55" y="247.51" width="1.20" height="7.92" fill="#9a8f84" /><rect x="182.55" y="257.42" width="1.20" height="7.92" fill="#9a8f84" />
<rect x="186.50" y="240.50" width="47.00" height="32.00" fill="#f1e2c8" />
<rect x="186.50" y="240.50" width="27.00" height="15.00" fill="#efe9e6" stroke="#d6b98c" stroke-width="0.6"/>
<rect x="215.70" y="240.50" width="16.50" height="14.20" fill="#9c9c9c" stroke="#d6b98c" stroke-width="0.6"/>
<rect x="217.00" y="242.00" width="6.50" height="11.00" fill="#cfd3d8" />
<rect x="224.50" y="242.00" width="6.50" height="11.00" fill="#cfd3d8" />
<rect x="186.50" y="266.30" width="47.00" height="0.80" fill="#d6b98c" />
<rect x="233.00" y="213.00" width="22.00" height="59.00" fill="#f1e2c8" stroke="#d8b788" stroke-width="0.6"/>
<rect x="235.00" y="215.00" width="18.00" height="40.00" fill="#f3e6cf" />
<rect x="238" y="216.8" width="11.3" height="8.7" rx="1.5" fill="#f6f6f6" stroke="#7a7a7a" stroke-width="0.8"/>
<rect x="238" y="226" width="11.3" height="12" rx="1.5" fill="#f6f6f6" stroke="#7a7a7a" stroke-width="0.8"/>
<rect x="249.30" y="224.20" width="2.40" height="3.00" fill="#8a8a8a" />
<rect x="236" y="240" width="15" height="14.2" rx="1" fill="#f5f5f5" stroke="#8a8a8a" stroke-width="0.7"/>
<circle cx="237.6" cy="254" r="0.9" fill="#777"/><circle cx="249.4" cy="254" r="0.9" fill="#777"/>
<rect x="255.30" y="255.30" width="87.00" height="20.00" fill="#f1e2c8" />
<rect x="253.00" y="212.50" width="2.30" height="60.00" fill="#f1e2c8" stroke="#d8b788" stroke-width="0.5"/>
<path d="M253.5,265.2 Q300,263.5 341,259.8" fill="none" stroke="#dcc29a" stroke-width="0.9"/>
<path d="M186.5,266.7 L253.5,266.7" fill="none" stroke="#dcc29a" stroke-width="0.8"/>
<rect x="191" y="221.3" width="2" height="6.2" rx="1" fill="none" stroke="#b8aea2" stroke-width="0.5"/>
<rect x="194" y="221.3" width="2" height="6.2" rx="1" fill="none" stroke="#b8aea2" stroke-width="0.5"/>
<rect x="197" y="221.3" width="2" height="6.2" rx="1" fill="none" stroke="#b8aea2" stroke-width="0.5"/>
<rect x="200" y="221.3" width="2" height="6.2" rx="1" fill="none" stroke="#b8aea2" stroke-width="0.5"/>
<rect x="203" y="221.3" width="2" height="6.2" rx="1" fill="none" stroke="#b8aea2" stroke-width="0.5"/>
<rect x="341.00" y="126.00" width="2.50" height="142.00" fill="#f1e2c8" />
<rect x="341.60" y="126.00" width="1.00" height="142.00" fill="#d8b788" />
<rect x="344.20" y="141.30" width="35.80" height="8.40" fill="#e9d4b0" stroke="#d8b788" stroke-width="0.5"/>
<rect x="346.10" y="142.50" width="16.30" height="5.60" fill="#fbfbfb" stroke="#9c9c9c" stroke-width="0.9"/>
<path d="M344.2,149.7 L380,149.7 L380,165.5 Q380,172 373.5,172 L344.2,172 Z" fill="#f7f7f7" stroke="#d2d2d2" stroke-width="0.6"/>
<path d="M364.5,153.5 Q370.5,151.5 376.5,153.5 Q379.3,156 379,160.5 Q378.7,165 375,167 L373,167 L373,169.4 L367.5,169.4 L367.5,167 L365.5,167 Q362,165 361.8,160.5 Q361.7,156 364.5,153.5 Z" fill="#f3f3f3" stroke="#7f7f7f" stroke-width="0.8"/>
<circle cx="352.4" cy="159.4" r="2.6" fill="none" stroke="#d0d0d0" stroke-width="0.6"/>
<rect x="381.10" y="138.80" width="13.20" height="22.40" fill="#f1e2c8" stroke="#d8b788" stroke-width="0.6"/><rect x="382.15" y="142.61" width="1.20" height="6.27" fill="#9a8f84" /><rect x="382.15" y="150.45" width="1.20" height="6.27" fill="#9a8f84" /><rect x="385.45" y="142.61" width="1.20" height="6.27" fill="#9a8f84" /><rect x="385.45" y="150.45" width="1.20" height="6.27" fill="#9a8f84" /><rect x="388.75" y="142.61" width="1.20" height="6.27" fill="#9a8f84" /><rect x="388.75" y="150.45" width="1.20" height="6.27" fill="#9a8f84" /><rect x="392.05" y="142.61" width="1.20" height="6.27" fill="#9a8f84" /><rect x="392.05" y="150.45" width="1.20" height="6.27" fill="#9a8f84" />
<path d="M344.3,247.5 L344.3,218.8 L375.5,218.8 Q380.5,218.8 380.5,224 L380.5,247.5 Z" fill="#f7f7f7" stroke="#d2d2d2" stroke-width="0.6"/>
<path d="M344.3,240.6 L357,240.6 Q361,240.3 363.5,237 Q365.5,234.4 369,234.4 L380.5,234.4" fill="none" stroke="#c2c2c2" stroke-width="0.9"/>
<rect x="344.30" y="245.90" width="36.20" height="0.70" fill="#c8c8c8" />
<circle cx="351" cy="226.3" r="3.8" fill="none" stroke="#d2d2d2" stroke-width="0.6"/>
<rect x="381.10" y="230.00" width="12.10" height="20.60" fill="#f1e2c8" stroke="#d8b788" stroke-width="0.6"/><rect x="382.01" y="233.50" width="1.20" height="5.77" fill="#9a8f84" /><rect x="382.01" y="240.71" width="1.20" height="5.77" fill="#9a8f84" /><rect x="385.04" y="233.50" width="1.20" height="5.77" fill="#9a8f84" /><rect x="385.04" y="240.71" width="1.20" height="5.77" fill="#9a8f84" /><rect x="388.06" y="233.50" width="1.20" height="5.77" fill="#9a8f84" /><rect x="388.06" y="240.71" width="1.20" height="5.77" fill="#9a8f84" /><rect x="391.09" y="233.50" width="1.20" height="5.77" fill="#9a8f84" /><rect x="391.09" y="240.71" width="1.20" height="5.77" fill="#9a8f84" />
<rect x="344.30" y="247.50" width="36.20" height="9.00" fill="#f1e2c8" />
<rect x="344.30" y="218.00" width="19.00" height="0.90" fill="#e0c9a2" />
<rect x="343.60" y="198.00" width="2.20" height="20.00" fill="#ead6b3" />
<path d="M346,200.5 A17.5,17.5 0 0 1 363.5,218" fill="none" stroke="#9a9a9a" stroke-width="0.6"/>
<path d="M344.2,191.2 L344.2,173.6 L363,173.6 L363,191.2" fill="none" stroke="#e0c9a2" stroke-width="1.2"/>
<path d="M345,174.2 Q348,186 355,190.5 M362.4,174.2 Q359.5,186 352.5,190.5" fill="none" stroke="#9a9a9a" stroke-width="0.6"/>
<rect x="340.60" y="172.00" width="2.60" height="84.00" fill="#f3f1ee" />
<rect x="394.30" y="138.00" width="2.00" height="114.00" fill="#e9d4b0" />
<rect x="395.00" y="138.00" width="0.80" height="114.00" fill="#d8b788" />
<path d="M396,153 L470,170.3 L470,221 L396,238.4 Z" fill="#e2ded9"/>
<path d="M396,153.4 L470,170.6 M396,238 L470,220.7" fill="none" stroke="#faf4ea" stroke-width="1.3"/>
<path d="M396,155 L470,172 M396,236.4 L470,219.2" fill="none" stroke="#d9cdb8" stroke-width="0.5"/>
<path d="M396,173.2 L468.5,170.2 L468.5,221 L396,218 Z" fill="#f3f3f3" stroke="#d9c9ad" stroke-width="0.8"/>
<clipPath id="cfb"><path d="M397.5,175 L449,173 L449,219 L397.5,216 Z"/></clipPath><g clip-path="url(#cfb)"><rect x="398.00" y="165.00" width="2.00" height="60.00" fill="#c8c8c8" /><rect x="401.25" y="165.00" width="2.00" height="60.00" fill="#c8c8c8" /><rect x="404.50" y="165.00" width="2.00" height="60.00" fill="#c8c8c8" /><rect x="407.75" y="165.00" width="2.00" height="60.00" fill="#c8c8c8" /><rect x="411.00" y="165.00" width="2.00" height="60.00" fill="#c8c8c8" /><rect x="414.25" y="165.00" width="2.00" height="60.00" fill="#c8c8c8" /><rect x="417.50" y="165.00" width="2.00" height="60.00" fill="#c8c8c8" /><rect x="420.75" y="165.00" width="2.00" height="60.00" fill="#c8c8c8" /><rect x="424.00" y="165.00" width="2.00" height="60.00" fill="#c8c8c8" /><rect x="427.25" y="165.00" width="2.00" height="60.00" fill="#c8c8c8" /><rect x="430.50" y="165.00" width="2.00" height="60.00" fill="#c8c8c8" /><rect x="433.75" y="165.00" width="2.00" height="60.00" fill="#c8c8c8" /><rect x="437.00" y="165.00" width="2.00" height="60.00" fill="#c8c8c8" /><rect x="440.25" y="165.00" width="2.00" height="60.00" fill="#c8c8c8" /><rect x="443.50" y="165.00" width="2.00" height="60.00" fill="#c8c8c8" /><rect x="446.75" y="165.00" width="2.00" height="60.00" fill="#c8c8c8" /></g>
<path d="M452.30,176.20 Q457.45,177.50 462.60,176.20 Q464.20,176.20 464.20,177.80 Q462.90,185.20 464.20,192.60 Q464.20,194.20 462.60,194.20 Q457.45,192.90 452.30,194.20 Q450.70,194.20 450.70,192.60 Q452.00,185.20 450.70,177.80 Q450.70,176.20 452.30,176.20 Z" fill="#939393" stroke="#d6d6d6" stroke-width="0.7"/>
<path d="M452.30,197.60 Q457.45,198.90 462.60,197.60 Q464.20,197.60 464.20,199.20 Q462.90,206.40 464.20,213.60 Q464.20,215.20 462.60,215.20 Q457.45,213.90 452.30,215.20 Q450.70,215.20 450.70,213.60 Q452.00,206.40 450.70,199.20 Q450.70,197.60 452.30,197.60 Z" fill="#939393" stroke="#d6d6d6" stroke-width="0.7"/>
<path d="M467,178 v5 M467,208 v5" stroke="#9a9a9a" stroke-width="1.2" fill="none"/>
<rect x="470.00" y="140.00" width="8.00" height="112.00" fill="#eeeeee" />
<rect x="477.00" y="140.00" width="62.00" height="112.00" fill="#dedede" />
<rect x="476.60" y="150.00" width="1.00" height="90.00" fill="#d9a878" />
<rect x="517.80" y="170.00" width="0.80" height="52.00" fill="#bdbdbd" />
<g transform="rotate(28 490.4 186.4)"><rect x="484.6" y="177.9" width="11.6" height="17" rx="1.2" fill="#f4f4f4" stroke="#9a9a9a" stroke-width="0.6"/></g>
<g transform="rotate(18 488 203.2)"><rect x="482" y="194.7" width="12" height="17" rx="1.2" fill="#f4f4f4" stroke="#9a9a9a" stroke-width="0.6"/></g>
<circle cx="501.5" cy="192.5" r="3.6" fill="#d0d0d0" stroke="#666" stroke-width="0.5"/>
<circle cx="508.5" cy="196" r="3.6" fill="#8a8a8a" stroke="#666" stroke-width="0.5"/>
<circle cx="500" cy="200" r="3.6" fill="#d0d0d0" stroke="#666" stroke-width="0.5"/>
<circle cx="504.5" cy="202" r="3.6" fill="#8a8a8a" stroke="#666" stroke-width="0.5"/>
<circle cx="512.5" cy="204" r="3.6" fill="#8a8a8a" stroke="#666" stroke-width="0.5"/>
</g>
<path d="M52.0,132.25 C53.67,132.03 58.67,131.38 62.00,130.95 C65.33,130.52 68.67,130.08 72.00,129.65 C75.33,129.22 78.67,128.79 82.00,128.37 C85.33,127.95 88.67,127.53 92.00,127.12 C95.33,126.71 98.67,126.30 102.00,125.90 C105.33,125.50 108.67,125.12 112.00,124.74 C115.33,124.36 118.67,124.00 122.00,123.64 C125.33,123.28 128.67,122.93 132.00,122.60 C135.33,122.27 138.67,121.95 142.00,121.65 C145.33,121.35 148.67,121.06 152.00,120.78 C155.33,120.50 158.67,120.24 162.00,120.00 C165.33,119.76 168.67,119.54 172.00,119.33 C175.33,119.12 178.67,118.93 182.00,118.76 C185.33,118.59 188.67,118.44 192.00,118.31 C195.33,118.18 198.67,118.07 202.00,117.98 C205.33,117.89 208.67,117.83 212.00,117.78 C215.33,117.73 218.67,117.71 222.00,117.71 C225.33,117.71 228.67,117.73 232.00,117.78 C235.33,117.83 238.67,117.90 242.00,117.99 C245.33,118.08 248.67,118.20 252.00,118.34 C255.33,118.48 258.67,118.65 262.00,118.84 C265.33,119.03 268.67,119.25 272.00,119.49 C275.33,119.73 278.67,120.00 282.00,120.29 C285.33,120.58 288.67,120.91 292.00,121.25 C295.33,121.59 298.67,121.96 302.00,122.36 C305.33,122.76 308.67,123.18 312.00,123.63 C315.33,124.08 318.67,124.56 322.00,125.06 C325.33,125.56 328.67,126.09 332.00,126.64 C335.33,127.19 338.67,127.77 342.00,128.38 C345.33,128.99 348.67,129.62 352.00,130.28 C355.33,130.94 358.67,131.62 362.00,132.33 C365.33,133.04 368.67,133.77 372.00,134.53 C375.33,135.29 378.67,136.07 382.00,136.88 C385.33,137.69 388.67,138.52 392.00,139.37 C395.33,140.22 398.67,141.11 402.00,142.01 C405.33,142.91 408.67,143.84 412.00,144.79 C415.33,145.74 418.67,146.71 422.00,147.70 C425.33,148.69 428.67,149.71 432.00,150.74 C435.33,151.78 438.67,152.84 442.00,153.91 C445.33,154.98 448.67,156.08 452.00,157.19 C455.33,158.30 458.67,159.44 462.00,160.59 C465.33,161.74 468.67,162.91 472.00,164.09 C475.33,165.27 478.67,166.47 482.00,167.69 C485.33,168.91 488.67,170.14 492.00,171.38 C495.33,172.62 498.67,173.88 502.00,175.15 C505.33,176.42 508.67,177.71 512.00,179.00 C515.33,180.29 517.65,181.19 522.00,182.91 C526.35,184.63 535.42,188.25 538.10,189.32 L538.1,189.00 L538.1,202.20 L538.1,201.88 C535.42,202.95 526.35,206.57 522.00,208.29 C517.65,210.01 515.33,210.91 512.00,212.20 C508.67,213.49 505.33,214.78 502.00,216.05 C498.67,217.32 495.33,218.58 492.00,219.82 C488.67,221.06 485.33,222.29 482.00,223.51 C478.67,224.72 475.33,225.93 472.00,227.11 C468.67,228.29 465.33,229.46 462.00,230.61 C458.67,231.76 455.33,232.90 452.00,234.01 C448.67,235.12 445.33,236.22 442.00,237.29 C438.67,238.36 435.33,239.42 432.00,240.46 C428.67,241.49 425.33,242.51 422.00,243.50 C418.67,244.49 415.33,245.46 412.00,246.41 C408.67,247.36 405.33,248.29 402.00,249.19 C398.67,250.09 395.33,250.97 392.00,251.83 C388.67,252.68 385.33,253.51 382.00,254.32 C378.67,255.13 375.33,255.91 372.00,256.67 C368.67,257.43 365.33,258.16 362.00,258.87 C358.67,259.58 355.33,260.26 352.00,260.92 C348.67,261.58 345.33,262.21 342.00,262.82 C338.67,263.43 335.33,264.01 332.00,264.56 C328.67,265.11 325.33,265.64 322.00,266.14 C318.67,266.64 315.33,267.12 312.00,267.57 C308.67,268.02 305.33,268.44 302.00,268.84 C298.67,269.24 295.33,269.61 292.00,269.95 C288.67,270.29 285.33,270.62 282.00,270.91 C278.67,271.20 275.33,271.47 272.00,271.71 C268.67,271.95 265.33,272.17 262.00,272.36 C258.67,272.55 255.33,272.72 252.00,272.86 C248.67,273.00 245.33,273.12 242.00,273.21 C238.67,273.30 235.33,273.37 232.00,273.42 C228.67,273.47 225.33,273.49 222.00,273.49 C218.67,273.49 215.33,273.46 212.00,273.42 C208.67,273.37 205.33,273.31 202.00,273.22 C198.67,273.13 195.33,273.02 192.00,272.89 C188.67,272.76 185.33,272.61 182.00,272.44 C178.67,272.27 175.33,272.08 172.00,271.87 C168.67,271.66 165.33,271.44 162.00,271.20 C158.67,270.96 155.33,270.69 152.00,270.42 C148.67,270.14 145.33,269.85 142.00,269.55 C138.67,269.25 135.33,268.93 132.00,268.60 C128.67,268.27 125.33,267.92 122.00,267.56 C118.67,267.20 115.33,266.84 112.00,266.46 C108.67,266.08 105.33,265.70 102.00,265.30 C98.67,264.90 95.33,264.49 92.00,264.08 C88.67,263.67 85.33,263.25 82.00,262.83 C78.67,262.41 75.33,261.98 72.00,261.55 C68.67,261.12 65.33,260.68 62.00,260.25 C58.67,259.82 53.67,259.17 52.00,258.95" fill="none" stroke="#2a2a2a" stroke-width="1.1"/>
<path d="M140,121.44 L158,119.91 L158,122.81 L140,124.34 Z" fill="#111"/><path d="M140,269.76 L158,271.29 L158,268.39 L140,266.86 Z" fill="#111"/><path d="M275.8,119.39 L302.5,122.02 L302.5,124.92 L275.8,122.29 Z" fill="#111"/><path d="M275.8,271.81 L302.5,269.18 L302.5,266.28 L275.8,268.91 Z" fill="#111"/><path d="M418,146.14 L436.7,151.83 L436.7,154.73 L418,149.04 Z" fill="#111"/><path d="M418,245.06 L436.7,239.37 L436.7,236.47 L418,242.16 Z" fill="#111"/>
<!-- section markers -->
<rect x="185.5" y="109" width="1.2" height="39.5" fill="#e9924c"/>
<rect x="341.4" y="118.5" width="1.2" height="30" fill="#e9924c"/>
<rect x="469.8" y="182" width="1.2" height="46" fill="#dcbc94"/><rect x="469.8" y="153.8" width="1.2" height="28.5" fill="#e28f4a"/>
<text transform="translate(184.9,95.1) rotate(90)" font-family="Liberation Sans, sans-serif" font-size="12.6" fill="#24465c" textLength="11.3" lengthAdjust="spacingAndGlyphs" stroke="#24465c" stroke-width="0.35">C2</text>
<text transform="translate(341.3,106.6) rotate(90)" font-family="Liberation Sans, sans-serif" font-size="11.9" fill="#24465c" textLength="9.6" lengthAdjust="spacingAndGlyphs" stroke="#24465c" stroke-width="0.35">B1</text>
<text transform="translate(469.6,140.8) rotate(90)" font-family="Liberation Sans, sans-serif" font-size="12.2" fill="#24465c" textLength="9.6" lengthAdjust="spacingAndGlyphs" stroke="#24465c" stroke-width="0.35">A1</text>
</svg>
</body></html>
